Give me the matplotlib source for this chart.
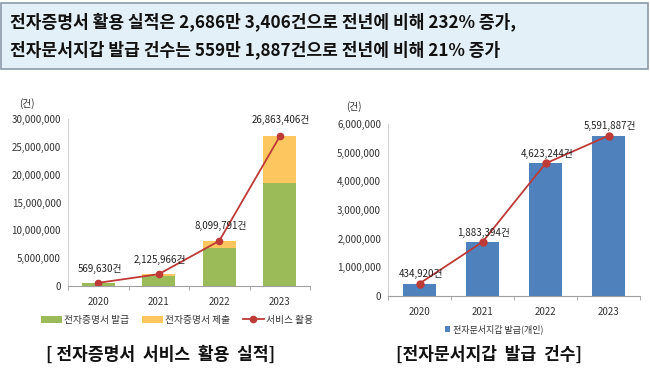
import matplotlib
matplotlib.use("Agg")
import matplotlib.pyplot as plt
from matplotlib.patches import Rectangle
from matplotlib.ticker import FuncFormatter

plt.rcParams['font.family'] = ['Noto Sans CJK KR', 'DejaVu Sans']

years = ['2020', '2021', '2022', '2023']
issue = [500000, 1850000, 6770000, 18550000]          # 전자증명서 발급
total = [569630, 2125966, 8099791, 26863406]           # 서비스 활용
submit = [t - i for t, i in zip(total, issue)]         # 전자증명서 제출
wallet = [434920, 1883394, 4623244, 5591887]           # 전자문서지갑 발급(개인)

header1 = "전자증명서 활용 실적은 2,686만 3,406건으로 전년에 비해 232% 증가,"
header2 = "전자문서지갑 발급 건수는 559만 1,887건으로 전년에 비해 21% 증가"

W, H = 650, 379
fig = plt.figure(figsize=(W / 100, H / 100), dpi=100)
fig.patch.set_facecolor('white')

# header box
fig.patches.append(Rectangle((1 / W, 1 - 69 / H), 647 / W, 66 / H, transform=fig.transFigure,
                             facecolor='#e4f0f7', edgecolor='#8a9aa8', linewidth=1.2))
fig.text(10 / W, 1 - 22 / H, header1, fontsize=12.3, fontweight='bold', va='center', ha='left', color='#111111')
fig.text(10 / W, 1 - 50 / H, header2, fontsize=12.3, fontweight='bold', va='center', ha='left', color='#111111')

fmt = FuncFormatter(lambda v, p: f"{int(v):,}")

def style(ax):
    ax.spines['top'].set_visible(False)
    ax.spines['right'].set_visible(False)
    ax.spines['left'].set_color('#d0d0d0')
    ax.spines['bottom'].set_color('#a0a0a0')
    ax.tick_params(axis='y', length=0, labelsize=7, colors='#333333', pad=5)
    ax.yaxis.set_major_formatter(fmt)
    ax.set_xticks(range(4))
    ax.set_xticklabels(years)
    ax.set_xticks([-0.5, 0.5, 1.5, 2.5, 3.5], minor=True)
    ax.tick_params(axis='x', which='major', length=0, labelsize=7, colors='#333333', pad=8)
    ax.tick_params(axis='x', which='minor', length=3, color='#a0a0a0')

# left chart
ax1 = fig.add_axes([68 / W, 1 - 286 / H, 242 / W, 167 / H])
x = range(4)
b1 = ax1.bar(x, issue, width=0.55, color='#9bbb59', label='전자증명서 발급')
b2 = ax1.bar(x, submit, width=0.55, bottom=issue, color='#fdc65e', label='전자증명서 제출')
l1, = ax1.plot(x, total, color='#be3a36', marker='o', markersize=4.5, linewidth=1.3, label='서비스 활용')
ax1.set_xlim(-0.5, 3.5)
ax1.set_ylim(0, 30000000)
ax1.set_yticks(range(0, 30000001, 5000000))
style(ax1)
lab_off = [1600000, 1700000, 1800000, 2000000]
for i, t in enumerate(total):
    ax1.text(i + 0.02, t + lab_off[i], f"{t:,}건", ha='center', va='bottom', fontsize=7, color='#222222')
fig.text(27 / W, 1 - 104 / H, "(건)", fontsize=7, ha='center', va='center', color='#333333')
ax1.legend([b1, b2, l1], ['전자증명서 발급', '전자증명서 제출', '서비스 활용'],
           loc='upper center', bbox_to_anchor=(0.45, -0.12), ncol=3, frameon=False, fontsize=7,
           handlelength=2.2, handletextpad=0.2, columnspacing=1.3, labelcolor='#333333')

# right chart
ax2 = fig.add_axes([388 / W, 1 - 296 / H, 252 / W, 172 / H])
ax2.bar(x, wallet, width=0.52, color='#4f81bd', label='전자문서지갑 발급(개인)')
ax2.plot(x, wallet, color='#be3a36', marker='o', markersize=5, linewidth=1.3)
ax2.set_xlim(-0.5, 3.5)
ax2.set_ylim(0, 6000000)
ax2.set_yticks(range(0, 6000001, 1000000))
style(ax2)
for i, t in enumerate(wallet):
    ax2.text(i + 0.02, t + 150000, f"{t:,}건", ha='center', va='bottom', fontsize=7, color='#222222')
fig.text(354 / W, 1 - 107 / H, "(건)", fontsize=7, ha='center', va='center', color='#333333')
ax2.legend(loc='upper center', bbox_to_anchor=(0.42, -0.12), frameon=False, fontsize=6.5,
           handlelength=0.6, handleheight=0.6, handletextpad=0.3, labelcolor='#333333')

fig.text(161 / W, 1 - 355 / H, "[ 전자증명서  서비스  활용  실적]", fontsize=12.3, fontweight='bold',
         ha='center', va='center', color='#111111')
fig.text(489 / W, 1 - 355 / H, "[전자문서지갑  발급  건수]", fontsize=12.3, fontweight='bold',
         ha='center', va='center', color='#111111')

fig.savefig('out.png', dpi=100)
